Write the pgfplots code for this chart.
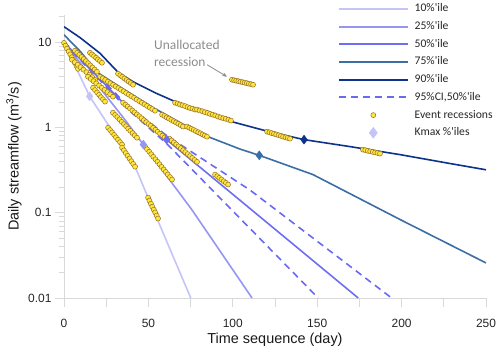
\documentclass[border=0pt]{standalone}
\usepackage{fontspec}
\setmainfont{Liberation Sans}
\newfontfamily\calibri{Carlito}
\usepackage{pgfplots}
\pgfplotsset{compat=1.18}
\usetikzlibrary{arrows.meta}

\definecolor{cten}{RGB}{196,196,248}
\definecolor{ctwf}{RGB}{150,150,242}
\definecolor{cfif}{RGB}{110,110,240}
\definecolor{csev}{RGB}{58,110,165}
\definecolor{cnin}{RGB}{12,50,140}
\definecolor{cdash}{RGB}{105,105,245}
\definecolor{ptfill}{RGB}{255,232,60}
\definecolor{ptdraw}{RGB}{150,110,40}
\definecolor{axgray}{RGB}{217,217,217}
\definecolor{anngray}{RGB}{140,140,140}

\pgfplotsset{
 legline/.style={legend image code/.code={\draw[##1, line width=1.9bp] (0bp,0bp) -- (69bp,0bp); \path (75bp,0bp);}},
 legmark/.style={legend image code/.code={\path (0bp,0bp); \draw[##1] plot coordinates {(34.5bp,0bp)}; \path (75bp,0bp);}},
 legdiam/.style={legend image code/.code={\path (0bp,0bp); \draw[##1, mark size=5.5bp] plot coordinates {(34.5bp,0bp)}; \path (75bp,0bp);}},
}

\begin{document}
\begin{tikzpicture}
\begin{axis}[
 at={(0bp,0bp)}, anchor=south west,
 scale only axis, width=422bp, height=283bp,
 xmin=0, xmax=250, ymode=log, ymin=0.01, ymax=21,
 axis x line*=bottom, axis y line*=left,
 axis line style={axgray, line width=0.8bp},
 every tick/.style={axgray, line width=0.8bp},
 every minor tick/.style={axgray, line width=0.8bp},
 tick align=outside,
 major tick length=9bp, minor tick length=5bp,
 xtick={0,25,...,250}, xticklabels={0,,50,,100,,150,,200,,250},
 ytick={0.01,0.1,1,10}, yticklabels={0.01,0.1,1,10},
 minor ytick={0.02,0.03,0.04,0.05,0.06,0.07,0.08,0.09,0.2,0.3,0.4,0.5,0.6,0.7,0.8,0.9,2,3,4,5,6,7,8,9,20},
 tick label style={font=\fontsize{12}{14}\selectfont, text=black!85},
 xticklabel style={yshift=-9bp},
 xlabel={Time sequence (day)},
 ylabel={Daily streamflow (m\textsuperscript{3}/s)},
 label style={font=\fontsize{14.5}{17}\selectfont, text=black!90},
 xlabel style={at={(axis description cs:0.5,-0.1484)}, anchor=center},
 ylabel style={at={(axis description cs:-0.1185,0.5)}, anchor=center},
 legend style={at={(0.649,1.041)}, anchor=north west, draw=none, fill=none,
   inner sep=0pt, outer sep=0pt, font=\calibri\fontsize{11.7}{14}\selectfont,
   text=black!85, row sep=6.7bp, nodes={inner sep=0pt, text height=8.5bp, text depth=2.5bp}},
 legend cell align=left,
]
% percentile curves
\addplot[cten, line width=1.6bp, legline] coordinates {(0,10) (15.2,2.33) (27.3,1.0) (42.1,0.349) (49.8,0.151) (75.1,0.01)};
\addlegendentry{10\%\textquotesingle ile}
\addplot[ctwf, line width=1.6bp, legline] coordinates {(0,10) (36.1,1.24) (47,0.632) (75.7,0.109) (111.4,0.01)};
\addlegendentry{25\%\textquotesingle ile}
\addplot[cfif, line width=1.6bp, legline] coordinates {(0,10) (37.3,1.76) (60.8,0.723) (174.3,0.01)};
\addlegendentry{50\%\textquotesingle ile}
\addplot[csev, line width=1.6bp, legline] coordinates {(0,12.3) (9.5,7.9) (20.1,4.4) (33.2,3.0) (52.7,1.72) (80.6,0.851) (104.3,0.56) (115.7,0.473) (147.5,0.281) (199.1,0.0834) (250,0.0258)};
\addlegendentry{75\%\textquotesingle ile}
\addplot[cnin, line width=1.6bp, legline] coordinates {(0,15.3) (9.5,11.4) (21.3,7.47) (32,4.47) (40.9,3.46) (53.9,2.57) (64.6,2.07) (80.6,1.6) (98.3,1.19) (120.3,0.91) (142.2,0.723) (169.4,0.599) (199.1,0.482) (228.7,0.379) (250,0.32)};
\addlegendentry{90\%\textquotesingle ile}
\addplot[cdash, line width=1.6bp, dash pattern=on 7bp off 5bp, legline] coordinates {(0,10.2) (37.3,1.85) (60.8,0.806) (110.2,0.185) (194.1,0.01)};
\addlegendentry{95\%CI,50\%\textquotesingle ile}
\addplot[cdash, line width=1.6bp, dash pattern=on 7bp off 5bp, forget plot] coordinates {(0,9.8) (37.3,1.68) (60.8,0.65) (150.6,0.01)};
% event recessions
\addplot[only marks, mark=*, mark size=2.5bp, draw=ptdraw, fill=ptfill, line width=0.5bp, legmark] coordinates {
(0,9.9)(0.9,9.16)(1.8,8.47)(2.8,7.84)(3.7,7.25)(4.6,6.7)(5.5,6.2)(6.5,5.74)(7.4,5.3)(8.3,4.9)
(6.5,8.0)(7.8,7.56)(9.1,7.14)(10.4,6.75)(11.7,6.38)(13.0,6.03)(14.3,5.7)(15.6,5.38)(16.9,5.09)(18.2,4.81)(19.5,4.54)
(15.4,7.57)(16.6,7.24)(17.8,6.92)(19.0,6.61)(20.1,6.32)(21.3,6.05)(22.5,5.78)
(21.3,3.96)(22.9,3.79)(24.4,3.63)(26.0,3.47)(27.5,3.32)(29.1,3.18)(30.6,3.04)(32.2,2.91)(33.7,2.79)(35.3,2.67)(36.8,2.55)(38.4,2.44)(39.9,2.34)(41.5,2.24)(43.0,2.14)(44.6,2.05)(46.1,1.96)(47.7,1.88)(49.2,1.80)(50.8,1.72)(52.3,1.65)(53.9,1.58)
(4.7,6.27)(6.4,5.86)(8.1,5.48)(9.8,5.13)(11.5,4.79)(13.3,4.48)(15.0,4.19)(16.7,3.91)(18.4,3.65)
(17.2,2.94)(18.4,2.76)(19.6,2.59)(20.8,2.43)(21.9,2.28)(23.1,2.15)(24.3,2.02)
(32.0,4.3)(33.3,4.12)(34.5,3.95)(35.8,3.78)(37.1,3.62)(38.3,3.47)(39.6,3.33)(40.9,3.19)
(35.0,1.96)(36.4,1.86)(37.7,1.77)(39.1,1.68)(40.5,1.59)(41.8,1.51)(43.2,1.43)(44.6,1.36)(45.9,1.29)(47.3,1.22)(48.7,1.16)(50.1,1.10)(51.4,1.05)(52.8,0.993)(54.2,0.943)(55.5,0.895)(56.9,0.849)(58.3,0.806)(59.6,0.765)(61.0,0.726)
(14.2,3.96)(15.8,3.73)(17.5,3.51)(19.1,3.31)(20.8,3.12)(22.4,2.94)(24.0,2.77)(25.7,2.61)(27.3,2.46)(29.0,2.31)
(29.0,1.50)(30.3,1.41)(31.6,1.33)(32.9,1.25)(34.2,1.17)(35.5,1.10)(36.8,1.04)(38.0,0.975)(39.3,0.917)(40.6,0.862)(41.9,0.810)(43.2,0.762)
(26.1,1.0)(27.3,0.937)(28.5,0.878)(29.7,0.822)(30.8,0.770)(32.0,0.722)(33.2,0.676)(34.4,0.634)
(34.4,0.583)(35.5,0.542)(36.6,0.503)(37.7,0.467)(38.8,0.434)(39.9,0.403)(41.0,0.375)(42.1,0.348)
(48.0,0.598)(49.2,0.558)(50.5,0.522)(51.7,0.487)(52.9,0.455)(54.2,0.425)(55.4,0.397)(56.6,0.371)(57.8,0.346)(59.1,0.323)(60.3,0.302)(61.5,0.282)(62.8,0.263)(64.0,0.246)
(49.8,0.151)(50.6,0.139)(51.5,0.128)(52.3,0.118)(53.2,0.109)(54.0,0.101)(54.9,0.0929)(55.7,0.0857)
(62.4,0.744)(63.7,0.706)(65.1,0.670)(66.5,0.636)(67.8,0.603)(69.2,0.573)(70.6,0.543)(71.9,0.516)(73.3,0.489)(74.7,0.464)(76.0,0.441)(77.4,0.418)(78.8,0.397)
(89.5,0.281)(90.8,0.269)(92.0,0.257)(93.3,0.246)(94.6,0.235)(95.9,0.225)(97.2,0.215)
(58.1,1.42)(59.5,1.37)(60.8,1.32)(62.2,1.28)(63.6,1.23)(65.0,1.19)(66.4,1.15)(67.7,1.11)(69.1,1.07)(70.5,1.03)
(72.9,1.03)(74.2,0.999)(75.5,0.969)(76.8,0.940)(78.1,0.912)(79.5,0.884)(80.8,0.858)(82.1,0.832)(83.4,0.807)(84.7,0.784)
(65.8,1.96)(67.3,1.92)(68.7,1.87)(70.2,1.83)(71.7,1.79)(73.2,1.74)(74.6,1.70)(76.1,1.67)(77.6,1.63)
(78.8,1.63)(80.3,1.59)(81.9,1.56)(83.4,1.52)(85.0,1.49)(86.5,1.45)(88.1,1.42)(89.6,1.39)(91.2,1.35)(92.7,1.32)(94.3,1.29)(95.8,1.27)(97.4,1.24)(98.9,1.21)
(120.3,0.898)(121.7,0.881)(123.0,0.864)(124.4,0.848)(125.7,0.832)(127.1,0.816)(128.5,0.800)(129.8,0.785)(131.2,0.770)(132.5,0.756)(133.9,0.742)
(99.5,3.65)(100.8,3.60)(102.0,3.56)(103.3,3.51)(104.5,3.46)(105.8,3.42)(107.0,3.37)(108.3,3.33)(109.5,3.28)(110.8,3.24)(112.0,3.19)
(177.1,0.552)(178.5,0.544)(180.0,0.535)(181.4,0.527)(182.9,0.519)(184.3,0.511)(185.7,0.504)(187.2,0.496)
};
\addlegendentry{Event recessions}
% Kmax diamonds
\addplot[only marks, mark=diamond*, mark size=4.5bp, draw=cten, fill=cten, legdiam] coordinates {(15.2,2.33)};
\addlegendentry{Kmax \%\textquotesingle iles}
\addplot[only marks, mark=diamond*, mark size=4.5bp, draw=ctwf, fill=ctwf, forget plot] coordinates {(47,0.632)};
\addplot[only marks, mark=diamond*, mark size=4.5bp, draw=cfif, fill=cfif, forget plot] coordinates {(60.8,0.723)};
\addplot[only marks, mark=diamond*, mark size=4.5bp, draw=csev, fill=csev, forget plot] coordinates {(115.7,0.473)};
\addplot[only marks, mark=diamond*, mark size=4.5bp, draw=cnin, fill=cnin, forget plot] coordinates {(142.2,0.723)};
% annotation
\node[anchor=north west, inner sep=0pt, align=left, text=anngray, font=\calibri\fontsize{13.5}{17}\selectfont] at (axis cs:53.3,10.76) {Unallocated\\recession};
\draw[anngray, line width=0.8bp, -{Stealth[length=5bp,width=4bp]}] (axis cs:84.7,5.48) -- (axis cs:96.6,3.96);
\end{axis}
\pgfresetboundingbox
\path (-64bp,-56bp) rectangle (436bp,298bp);
\end{tikzpicture}
\end{document}
